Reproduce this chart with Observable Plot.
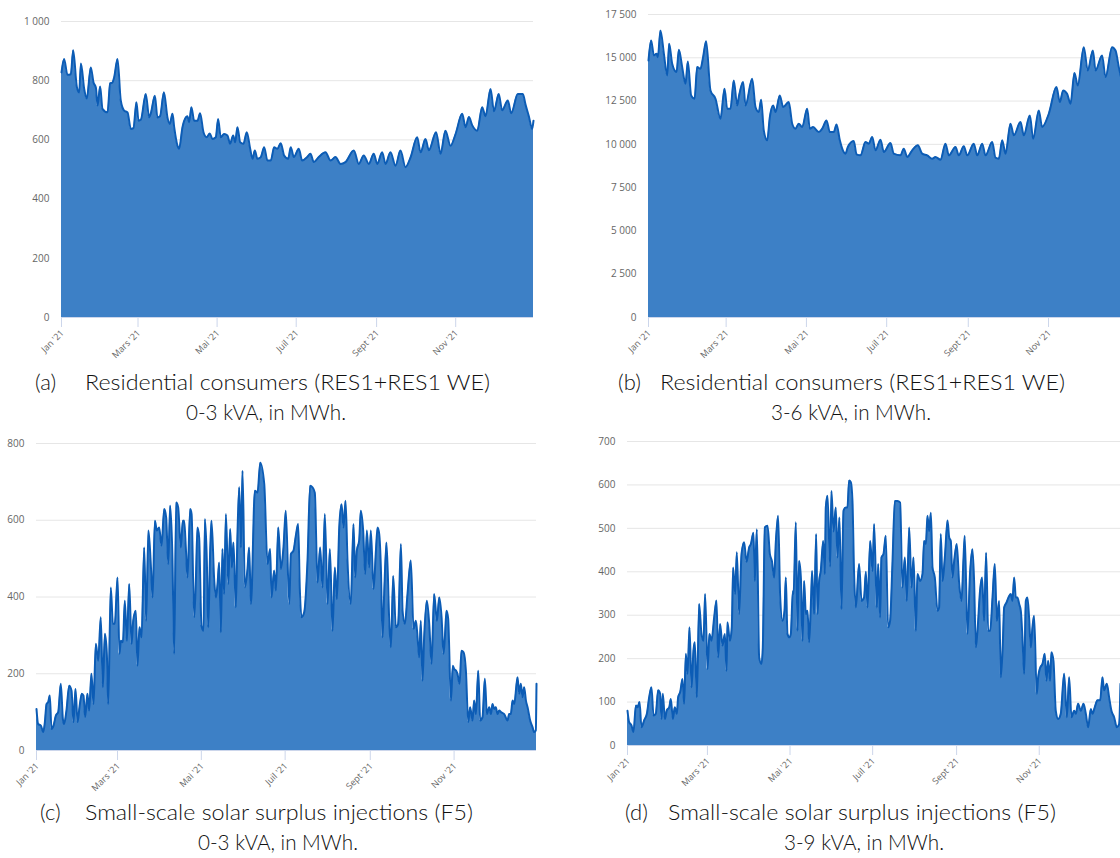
<!DOCTYPE html>
<html><head><meta charset="utf-8">
<script src="https://cdn.jsdelivr.net/npm/d3@7"></script>
<script src="https://cdn.jsdelivr.net/npm/@observablehq/plot@0.6"></script>
<style>
html,body{margin:0;padding:0;background:#fff;overflow:hidden;}
#root{position:relative;width:1120px;height:858px;overflow:hidden;background:#fff;}
.panel{position:absolute;}
.panel svg{max-width:none !important;}
#captions{position:absolute;left:0;top:0;}
</style></head><body><div id="root"></div>
<script>
// ---- shared axis data ----
const monthTickDays = [0, 59, 120, 181, 243, 304];
const monthTickLabels = ["Jan '21", "Mars '21", "Mai '21", "Juil '21", "Sept '21", "Nov '21"];

// ---- (a) Residential 0-3 kVA (MWh), day-of-year and value ----
const daysA = [0,2,4.6,7.2,9,11.8,13.6,15,17.5,19.5,22.6,24.7,26.5,27.8,29.8,31.6,35.5,37.5,39.3,40.6,43.2,45.7,48.3,50.9,53.5,55.5,57.8,59.4,61.2,65,67.6,68.9,72,74,76,79,81.7,83.5,85.6,86.9,89.4,90.7,93.3,95.9,97.1,98.4,100.2,102.3,104.9,106.9,109.5,112,114.4,116.4,119,120.8,122.8,125.4,128,130,132.4,133.9,135.7,137.8,140.3,142.9,145.5,147.3,149.1,151.1,153.7,156.3,158.8,161.4,164,166.5,169.1,171.7,174.8,176.8,179.2,183,185.6,189.5,192,194.6,198.4,203.6,207.5,211.3,215.2,219,225.4,229.3,233.1,237,240.8,243.5,247.3,249.9,253.7,257.6,261.4,265.3,269.1,274.3,276.9,280.7,283.3,288.9,292.3,296.1,300,303.9,309,311.6,314.2,316.7,320.6,324.4,327,330.9,333.5,337.2,339.8,344.2,346.8,351.9,355.8,357.8,360.4,363,364];
const valuesA = [828,873,820,822,903,780,760,858,772,740,845,794,777,716,780,705,693,791,794,811,873,733,699,693,637,640,727,665,668,755,676,690,749,676,680,761,676,654,688,643,581,570,643,676,680,660,710,665,665,690,626,609,622,603,609,671,609,620,615,587,615,592,643,592,587,626,570,536,564,536,542,575,530,530,575,570,589,547,536,575,542,570,530,542,553,525,542,558,530,542,519,525,564,519,547,519,553,519,558,519,558,513,564,508,540,609,558,603,565,626,553,631,580,620,688,643,677,650,631,710,680,772,697,755,700,733,690,755,755,720,680,637,665];

// ---- (b) Residential 3-6 kVA (MWh) ----
const daysB = [0,2,4.1,6.1,7.1,9.1,11.7,14.2,15.7,18,21.3,23.1,25.6,28.1,29.9,32.4,35,37,39.5,41.5,43.8,47.1,50.9,54.7,57.8,59.8,62.3,64.8,67.4,68.6,71.9,73.7,78.8,81.3,83.8,85.6,87.6,90.2,92.2,94.7,96.5,99.8,102.3,106.6,109.2,111.7,114.2,116.8,120.6,122.6,125.1,129.4,132,135.3,137.8,140.8,142.9,145.4,147.2,149.7,151.5,156,158.1,161.1,164.9,167.4,170,172.5,176.3,178.8,183.9,186.4,191.5,194,196.6,200.4,204.7,208,211.8,215.6,218.1,221.9,225.7,228.2,233.3,235.8,239.6,242.2,247.2,249.8,253.6,256.1,261.2,263.7,266.2,268.8,271.3,275.1,277.6,282.7,285.2,289.8,292.3,296.6,299.1,304.2,310,312.6,315.1,318.1,320.7,323.7,326.2,330.8,333.8,337.7,339.7,344.7,347.3,352.3,354.9,357.4,360,364];
const valuesB = [14846,16000,15135,15230,15038,16577,15230,13980,15808,14654,14173,15462,14461,13500,14788,12827,12635,14461,14365,15038,15961,13115,12635,11481,13211,12057,12057,13692,12250,12730,13596,12250,13788,12154,11865,12577,10808,10231,11577,12250,11865,12827,12154,12442,11192,10904,11192,11000,12057,10904,11000,10711,10904,11384,10711,10711,11154,10231,9750,9461,9846,10192,9423,9365,10134,10038,10423,9654,10269,9558,10077,9461,9365,9750,9269,9654,9942,9461,9365,9173,9269,9115,10038,9365,9846,9365,9884,9365,10038,9365,10038,9365,10134,9230,9173,10231,9461,11192,10519,11288,10519,11673,10327,11961,11000,11769,13307,12442,13115,12923,12346,14115,13403,15615,14269,15423,14269,15135,13884,15615,15423,14461,13600,13000];

// ---- (c) Solar surplus F5 0-3 kVA (MWh) ----
const daysC = [0,1.2,3.2,4.9,6.1,7.3,8.5,9.7,10.9,12.4,14.1,15.8,17.7,19.2,20.1,21.8,23.8,25.5,26.9,28.4,29.9,31.3,33,34.2,35.4,37.1,38.3,40,41.5,43.2,44.9,46.8,48.3,49.8,51.2,52.2,54.1,55.6,57,59,60.4,61.4,62.9,64.3,65.8,67.5,69.2,70.4,72.3,73.5,75,76.5,78.4,79.8,81.5,83.2,84.5,86.2,87.6,89.3,91,93,94.4,95.9,97.3,99,100.2,101.7,103.1,105.1,106.5,107.5,108.7,109.9,111.9,112.9,114.8,116,117.2,118.4,120.1,121.6,122.6,124,125,126.5,127.4,129.4,130.6,131.8,133,134.2,135.4,136.6,137.9,139.6,141,142.2,143.4,145.1,146.3,147.6,148.8,150,151.7,153.6,154.8,156.1,159,160.9,162.9,165.8,168.2,170.1,171.1,173,174.3,176,177.9,179.8,181.5,184,185.2,187.1,188.8,190.5,191.7,192.9,194.9,197.3,199.2,200.9,202.6,204.6,206.5,208.2,209.9,211.9,213.6,215.5,217.2,218.7,220.4,222.1,223.5,225,226.4,228.8,230.8,232,233.2,234.9,236.1,237.8,239.3,240.5,242.2,243.4,245.4,247.1,248.3,249.5,250.7,251.9,253.1,254.8,256.8,258,259.7,261.6,263.3,265.3,266.5,268.2,270.1,272.5,274.5,276.2,277.4,278.6,279.8,281,282.2,284.2,285.9,287.6,289.5,291.5,293.2,294.9,296.3,297.3,298.5,299.7,301.7,303.1,304.1,305.5,306.5,308,309.4,310.9,312.6,314.3,315.7,317.4,318.6,319.9,321.6,323,324.7,326.4,327.9,329.6,330.8,332,333.2,334.4,335.6,336.9,338.1,340.5,342.9,344.1,345.3,346.6,347.8,350.2,351.4,352.6,353.8,355,356.3,357.5,359.4,361.1,362.3,363.5,364];
const valuesC = [108,69,65,48,74,121,126,143,56,65,91,100,174,82,69,104,169,156,74,160,74,113,148,143,87,148,104,200,121,278,234,347,165,304,252,121,425,330,330,451,252,286,282,390,286,434,278,338,364,221,321,295,529,338,573,486,399,599,573,581,534,629,607,486,638,495,252,646,634,529,599,599,529,451,629,616,347,442,581,555,325,312,603,495,321,529,599,442,399,434,490,308,525,408,616,434,577,477,542,373,564,686,529,729,425,473,529,382,677,672,750,694,486,525,399,469,417,581,473,529,625,382,512,521,560,590,421,347,360,495,690,686,672,438,529,425,616,382,525,312,477,395,581,642,581,651,495,382,590,451,521,547,625,573,460,573,477,573,421,521,581,564,477,295,408,542,338,269,455,321,330,538,364,330,408,495,317,338,295,243,338,182,295,390,330,226,408,338,399,347,252,295,364,343,130,221,212,208,199,174,260,256,208,74,113,78,130,95,208,78,87,187,95,113,95,121,108,113,95,104,100,95,78,95,95,130,121,191,148,174,139,165,130,113,78,61,48,52,174];

// ---- (d) Solar surplus F5 3-9 kVA (MWh) ----
const daysD = [0,1.2,3,4.4,6.2,7.4,8.9,10.3,12.3,14.3,16,17.7,19.2,20.9,22.6,24.1,25.1,26.1,27.6,29,30.8,32,33.5,34.9,36.4,37.4,38.9,40.6,41.8,43.1,44.3,45.8,47.3,48.7,49.7,51.2,52.9,54.6,56.1,57.3,59.1,60.5,62,64,65.7,66.9,68.4,70.1,71.9,73.1,73.8,75.6,77,78,79.5,80.7,82.4,84.2,86.1,87.9,89.8,91.1,93,94,95.5,97.2,98.9,99.9,101.4,103.4,105.1,106.6,108.3,109.5,111.2,112.7,114.4,115.9,116.9,118.1,119.6,120.6,122.1,122.6,124.3,125.5,126.7,128,129.2,130.4,131.7,132.9,134.1,135.4,136.3,137.8,139.3,140.3,141.5,142.7,144.5,145.7,146.4,147.7,149.6,150.6,152.1,153.8,155,156.5,158,159.5,161.2,162.4,163.6,164.9,166.1,167.3,168.6,171,172.8,174.7,176,177.2,179.2,180.9,182.1,184.1,185.1,186.5,187.5,189,190.7,192.4,193.9,195.6,197.4,199.3,201.3,203,204.8,206.2,208,209.7,211.2,212.9,214.1,216.1,217.8,219,220.3,221.5,222.7,224,225.2,226.9,228.9,230.1,231.3,232.6,234.3,236.3,237.5,238.7,239.9,241.2,243.1,244.9,246.6,248.1,249,251,253,254.7,255.9,257.2,258.4,260.4,261.8,263.3,264.8,266.3,267.8,269.5,271.2,272.7,274.4,275.6,277.1,278.1,279.8,281.3,283,284.2,285.5,286.7,287.9,289.2,290.4,291.6,292.9,294.1,295.3,296.5,297.8,299,300.2,302.2,303.2,304.7,306.4,308.1,309.3,310.6,312,313,314.5,316.2,318,319.9,322.4,324.4,326.1,327.8,329.8,331,332.7,334.7,336.7,338.4,340.1,342.1,343.3,345,347,349,350.7,351.9,353.9,355.6,357.3,359.3,361.3,363,364];
const valuesD = [80,54,46,31,92,88,100,42,58,73,111,134,69,73,127,119,61,119,61,81,88,107,61,88,73,111,123,153,96,211,165,272,134,219,238,111,326,257,241,349,176,257,241,295,334,203,280,230,257,172,284,241,272,410,349,445,303,441,468,423,456,464,490,379,498,203,188,226,502,506,441,425,387,468,529,345,287,310,387,257,249,257,356,349,514,264,425,387,241,379,303,310,238,326,402,303,487,303,379,402,471,395,548,575,412,586,493,548,433,525,314,541,548,548,610,606,563,395,318,418,333,341,400,318,471,402,510,318,418,295,433,441,483,272,287,418,563,563,559,364,433,333,502,364,433,264,395,379,395,471,464,529,494,536,410,387,310,318,487,379,433,518,479,471,387,425,464,372,333,433,483,257,402,452,379,226,264,360,387,287,444,264,264,341,418,287,333,157,234,318,329,341,349,333,387,341,341,326,310,249,165,333,341,295,226,272,299,119,157,179,188,211,149,195,149,215,195,80,61,73,165,65,157,65,80,73,96,80,96,73,42,84,73,88,104,104,157,127,142,111,80,65,42,49,142];

// ---- y-axis ticks ----
const yTicksA = [0, 200, 400, 600, 800, 1000];
const yTicksB = [0, 2500, 5000, 7500, 10000, 12500, 15000, 17500];
const yTicksC = [0, 200, 400, 600, 800];
const yTicksD = [0, 100, 200, 300, 400, 500, 600, 700];

// ---- captions ----
const captionTags = ["(a)", "(b)", "(c)", "(d)"];
const captionTitles = ["Residential consumers (RES1+RES1 WE)", "Residential consumers (RES1+RES1 WE)", "Small-scale solar surplus injections (F5)", "Small-scale solar surplus injections (F5)"];
const captionUnits = ["0-3 kVA, in MWh.", "3-6 kVA, in MWh.", "0-3 kVA, in MWh.", "3-9 kVA, in MWh."];

const t0 = Date.UTC(2021, 0, 1);
const toDate = d => new Date(t0 + d * 864e5);
const fmtY = v => d3.format(",")(v).replace(/,/g, "\u00a0");
const FILL = "#3d80c6", LINE = "#0c5cb5", GRID = "#e6e6e6", AXIS = "#ccd6eb", LABEL = "#666666";

const root = document.getElementById("root");

function panel(cfg) {
  const data = cfg.days.map((d, i) => ({date: toDate(d), value: cfg.values[i]}));
  const tickDates = monthTickDays.map(toDate);
  const tickData = tickDates.map((d, i) => ({date: d, label: monthTickLabels[i]}));
  const svg = Plot.plot({
    width: cfg.width, height: cfg.height,
    marginLeft: cfg.mL, marginRight: cfg.mR, marginTop: cfg.mT, marginBottom: cfg.mB,
    style: {background: "transparent", overflow: "visible", fontFamily: "'Open Sans', sans-serif"},
    x: {type: "utc", domain: [toDate(0), toDate(364)], axis: null},
    y: {domain: [0, cfg.yMax], axis: null},
    marks: [
      Plot.ruleY(cfg.yTicks.filter(t => t > 0), {stroke: GRID, strokeWidth: 1}),
      Plot.areaY(data, {x: "date", y: "value", fill: FILL, curve: "monotone-x"}),
      Plot.lineY(data, {x: "date", y: "value", stroke: LINE, strokeWidth: 2, curve: "monotone-x"}),
      Plot.ruleY([0], {stroke: AXIS, strokeWidth: 1}),
      Plot.axisX(tickDates, {tickSize: 10, stroke: AXIS, tickFormat: () => "", fill: "none"}),
      Plot.text(tickData, {x: "date", text: "label", frameAnchor: "bottom", rotate: -45, textAnchor: "end", dx: 3, dy: 16, fill: LABEL, fontSize: 9}),
      Plot.text(cfg.yTicks, {y: d => d, text: d => fmtY(d), frameAnchor: "left", textAnchor: "end", dx: -12, fill: LABEL, fontSize: 10})
    ]
  });
  const div = document.createElement("div");
  div.className = "panel";
  div.style.left = cfg.left + "px";
  div.style.top = cfg.top + "px";
  div.appendChild(svg);
  root.appendChild(div);
}

panel({left: 0, top: 0, width: 553, height: 367, mL: 61, mR: 20, mT: 21, mB: 50, days: daysA, values: valuesA, yTicks: yTicksA, yMax: 1000});
panel({left: 570, top: 0, width: 567, height: 367, mL: 78, mR: 10, mT: 14, mB: 50, days: daysB, values: valuesB, yTicks: yTicksB, yMax: 17500});
panel({left: 0, top: 420, width: 556, height: 380, mL: 36, mR: 20, mT: 23, mB: 50, days: daysC, values: valuesC, yTicks: yTicksC, yMax: 800});
panel({left: 570, top: 420, width: 560, height: 375, mL: 57, mR: 10, mT: 21, mB: 50, days: daysD, values: valuesD, yTicks: yTicksD, yMax: 700});

// captions overlay
const capPos = [
  {tagX: 35, textX: 85, titleW: 405, unitCX: 266, unitW: 160, y1: 390, y2: 420},
  {tagX: 618, textX: 660, titleW: 405, unitCX: 851, unitW: 160, y1: 390, y2: 420},
  {tagX: 40, textX: 85, titleW: 388, unitCX: 278, unitW: 160, y1: 820, y2: 850},
  {tagX: 625, textX: 668, titleW: 388, unitCX: 864, unitW: 160, y1: 820, y2: 850}
];
const ns = "http://www.w3.org/2000/svg";
const cap = document.createElementNS(ns, "svg");
cap.setAttribute("id", "captions");
cap.setAttribute("width", 1120);
cap.setAttribute("height", 858);
cap.style.position = "absolute"; cap.style.left = "0"; cap.style.top = "0";
function addText(x, y, s, anchor, w) {
  const t = document.createElementNS(ns, "text");
  t.setAttribute("x", x); t.setAttribute("y", y);
  t.setAttribute("text-anchor", anchor);
  t.setAttribute("font-family", "Lato, 'Open Sans', sans-serif");
  t.setAttribute("font-weight", "300");
  t.setAttribute("font-size", "22");
  t.setAttribute("fill", "#111111");
  if (w) { t.setAttribute("textLength", w); t.setAttribute("lengthAdjust", "spacingAndGlyphs"); }
  t.textContent = s;
  cap.appendChild(t);
}
capPos.forEach((p, i) => {
  addText(p.tagX, p.y1, captionTags[i], "start");
  addText(p.textX, p.y1, captionTitles[i], "start", p.titleW);
  addText(p.unitCX, p.y2, captionUnits[i], "middle", p.unitW);
});
root.appendChild(cap);
</script></body></html>
